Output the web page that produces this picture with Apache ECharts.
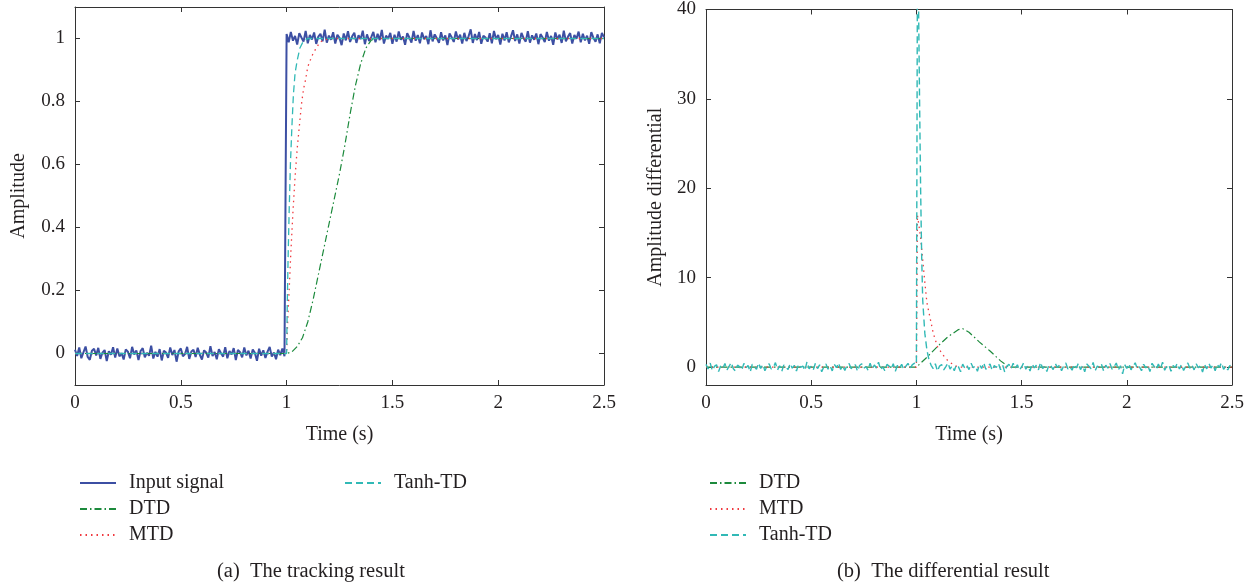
<!DOCTYPE html>
<html><head><meta charset="utf-8">
<script src="https://cdn.jsdelivr.net/npm/echarts@6/dist/echarts.min.js"></script>
<style>html,body{margin:0;padding:0;background:#fff}#c{width:1253px;height:586px}</style>
</head><body><div id="c"></div>
<script>
// ---------- data ----------
const timeStep = 0.01;
const xTicks = [0, 0.5, 1, 1.5, 2, 2.5];
const leftYTicks = [0, 0.2, 0.4, 0.6, 0.8, 1];
const rightYTicks = [0, 10, 20, 30, 40];

// Input signal (noisy step), t = 0.00 .. 0.99
const inputBefore = [0.012,-0.008,0.019,-0.015,0.004,0.022,-0.011,-0.02,0.009,0.015,
-0.006,0.018,-0.017,0.003,0.011,-0.024,0.007,-0.004,0.02,-0.013,
0.016,-0.009,0.001,-0.019,0.013,0.006,-0.015,0.021,-0.003,0.01,
-0.021,0.008,0.017,-0.012,0.002,-0.007,0.025,-0.016,0.005,-0.01,
0.014,-0.022,0.009,0.003,-0.014,0.019,-0.005,0.011,-0.026,0.007,
0.016,-0.009,-0.002,0.021,-0.017,0.006,0.012,-0.011,0.018,-0.004,
-0.019,0.01,0.003,-0.013,0.023,-0.008,0.005,-0.018,0.014,0.001,
-0.01,0.02,-0.015,0.008,-0.003,0.017,-0.021,0.011,0.004,-0.012,
0.019,-0.006,0.009,-0.016,0.013,0.002,-0.023,0.015,-0.007,0.01,
-0.014,0.006,0.021,-0.01,0.003,-0.018,0.012,-0.005,0.016,-0.009];
// Input signal, t = 1.00 .. 2.50
const inputAfter = [1.014,0.988,1.021,0.993,1.008,0.981,1.017,1.003,0.99,1.024,
0.985,1.011,0.997,1.019,0.983,1.006,1.015,0.991,1.028,0.987,
1.009,0.996,1.02,0.984,1.012,1.002,0.979,1.016,0.994,1.023,
0.989,1.007,1.018,0.986,1.01,0.998,1.025,0.982,1.013,0.992,
1.004,1.021,0.988,1.015,0.995,1.027,0.984,1.009,0.999,1.018,
0.983,1.012,0.99,1.022,0.996,1.006,0.98,1.017,1.003,0.987,
1.024,0.993,1.011,0.985,1.019,0.998,1.008,0.982,1.026,0.991,
1.013,1.001,0.986,1.02,0.994,1.01,0.979,1.016,1.004,0.989,
1.022,0.997,1.012,0.984,1.018,0.992,1.007,1.029,0.986,1.014,
0.995,1.021,0.983,1.009,1.003,0.99,1.017,0.985,1.024,0.998,
1.011,0.981,1.015,0.994,1.02,0.988,1.006,1.026,0.992,1.013,
0.984,1.018,1.001,0.99,1.023,0.987,1.01,0.996,1.016,0.982,
1.014,1.003,0.989,1.021,0.993,1.008,0.98,1.019,0.997,1.012,
0.986,1.025,0.991,1.006,1.017,0.984,1.011,0.999,1.022,0.988,
1.015,0.994,1.009,0.983,1.02,1.002,0.99,1.013,0.985,1.018,
1.004];

// Tracking results (a)
const dtdT  = [0, 1.0, 1.025, 1.05, 1.075, 1.1, 1.125, 1.15, 1.175, 1.2, 1.225, 1.25, 1.275, 1.3, 1.325, 1.35, 1.375, 1.4, 1.425, 2.5];
const dtdY  = [0, 0, 0.005, 0.022, 0.05, 0.1, 0.17, 0.25, 0.33, 0.41, 0.49, 0.57, 0.66, 0.76, 0.85, 0.92, 0.97, 0.995, 1.0, 1.0];
const mtdT  = [0, 1.0, 1.005, 1.012, 1.02, 1.03, 1.04, 1.05, 1.06, 1.07, 1.08, 1.09, 1.1, 1.12, 1.14, 1.16, 1.2, 2.5];
const mtdY  = [0, 0, 0.1, 0.2, 0.32, 0.45, 0.56, 0.65, 0.72, 0.79, 0.84, 0.87, 0.91, 0.945, 0.97, 0.99, 1.0, 1.0];
const tanhT = [0, 1.0, 1.003, 1.007, 1.012, 1.018, 1.025, 1.032, 1.04, 1.05, 1.063, 1.078, 1.1, 2.5];
const tanhY = [0, 0, 0.15, 0.3, 0.45, 0.6, 0.72, 0.82, 0.89, 0.93, 0.97, 0.99, 1.0, 1.0];

// Differential results (b)
const dDtdT = [0, 1.0, 1.05, 1.1, 1.15, 1.2, 1.22, 1.25, 1.3, 1.35, 1.4, 1.44, 2.5];
const dDtdY = [0, 0, 1.1, 2.3, 3.4, 4.2, 4.3, 3.9, 2.8, 1.8, 0.7, 0, 0];
const dMtdT = [0, 1.0, 1.005, 1.01, 1.02, 1.03, 1.04, 1.05, 1.065, 1.08, 1.1, 1.125, 1.15, 1.18, 1.2, 2.5];
const dMtdY = [0, 0, 17, 17, 14.5, 12, 9.5, 7.2, 5.5, 3.8, 2.3, 1.4, 0.7, 0.2, 0, 0];
// Tanh-TD differential: noise t = 0.00..0.99, spike, noise t = 1.08..2.50
const dTanhBefore = [0.31,-0.22,0.45,-0.38,0.08,0.27,-0.5,0.17,-0.12,0.4,
-0.3,0.1,0.52,-0.18,-0.45,0.22,0.03,-0.35,0.42,-0.09,
0.19,-0.55,0.32,0.06,-0.25,0.46,-0.14,0.28,-0.4,0.1,
0.37,-0.2,-0.05,0.5,-0.32,0.16,-0.48,0.25,0.02,-0.28,
0.41,-0.12,0.2,-0.44,0.34,-0.03,0.13,-0.38,0.6,-0.19,
0.09,-0.31,0.44,-0.16,0.26,-0.52,0.05,0.35,-0.23,0.15,
-0.42,0.3,-0.07,0.48,-0.26,0.12,-0.37,0.22,0.4,-0.17,
-0.06,0.28,-0.47,0.18,0.38,-0.13,0.07,-0.34,0.44,-0.22,
0.24,-0.1,0.55,-0.3,0.03,-0.41,0.31,0.13,-0.19,0.37,
-0.46,0.2,-0.09,0.32,-0.26,0.1,0.42,-0.15,0.25,0.44];
const dTanhSpikeT = [1.0, 1.005, 1.01, 1.015, 1.02, 1.025, 1.03, 1.04, 1.05, 1.06, 1.07];
const dTanhSpikeY = [0.3, 46, 41, 30, 20, 12.5, 7.5, 3.8, 1.9, 0.8, 0.2];
const dTanhAfterStart = 1.08;
const dTanhAfter = [-0.18,0.38,-0.44,0.12,0.28,-0.32,0.06,0.46,-0.22,0.15,
-0.4,0.25,0.03,-0.52,0.34,-0.12,0.19,-0.28,0.43,-0.07,
0.13,-0.47,0.3,-0.16,0.5,-0.25,0.09,0.35,-0.37,0.18,
-0.04,0.41,-0.3,0.22,-0.56,0.1,0.32,-0.19,0.44,-0.13,
0.26,-0.35,0.02,0.49,-0.24,0.16,-0.43,0.37,-0.09,0.21,
-0.31,0.54,-0.15,0.07,-0.49,0.28,0.12,-0.27,0.4,-0.03,
0.24,-0.41,0.15,0.47,-0.21,0.04,-0.34,0.31,-0.1,0.43,
-0.28,0.18,-0.53,0.35,0.09,-0.18,0.52,-0.38,0.13,-0.06,
0.3,-0.44,0.22,-0.12,0.4,-0.25,0.06,0.46,-0.32,0.16,
-0.75,0.27,-0.15,0.38,-0.3,0.1,0.49,-0.22,0.03,-0.4,
0.32,-0.09,0.21,-0.5,0.43,0.07,-0.27,0.34,-0.16,0.56,
-0.35,0.13,0.25,-0.46,0.18,-0.04,0.41,-0.21,0.3,-0.38,
0.09,0.47,-0.13,0.22,-0.31,0.37,-0.07,0.15,-0.54,0.28,
-0.19,0.44,-0.1,0.24,-0.41,0.31,-0.03,0.5,-0.24,0.12,
-0.32,0.19,0.06];

// ---------- build ----------
const r2 = v => Math.round(v * 1000) / 1000;
const seq = (start, arr) => arr.map((v, i) => [r2(start + i * timeStep), v]);
const pairs = (ts, ys) => ts.map((t, i) => [t, ys[i]]);

const inputData = seq(0, inputBefore).concat(seq(1.0, inputAfter));
const dTanhData = seq(0, dTanhBefore).concat(pairs(dTanhSpikeT, dTanhSpikeY)).concat(seq(dTanhAfterStart, dTanhAfter));

const FONT = 'Liberation Serif';
const TXT = '#231f20';
const AX = '#333';
const C_IN = '#3c4fa3', C_DTD = '#1c8a3c', C_MTD = '#f0393f', C_TANH = '#31b9b6';

function xAx(g, pos, main) {
  return {
    gridIndex: g, type: 'value', min: 0, max: 2.5, interval: 0.5, position: pos,
    name: main ? 'Time (s)' : '', nameLocation: 'middle', nameGap: 40,
    nameTextStyle: { fontFamily: FONT, fontSize: 20, color: TXT },
    axisLine: { show: true, onZero: false, lineStyle: { color: AX, width: 1 } },
    axisTick: { show: true, inside: true, length: 5, lineStyle: { color: AX }, customValues: xTicks },
    axisLabel: { show: main, fontFamily: FONT, fontSize: 19, color: TXT, margin: 9, customValues: xTicks },
    splitLine: { show: false }
  };
}
function yAx(g, pos, main, min, max, ticks, name, gap) {
  return {
    gridIndex: g, type: 'value', min: min, max: max, position: pos,
    name: main ? name : '', nameLocation: 'middle', nameGap: gap,
    nameTextStyle: { fontFamily: FONT, fontSize: 20, color: TXT },
    axisLine: { show: true, onZero: false, lineStyle: { color: AX, width: 1 } },
    axisTick: { show: true, inside: true, length: 5, lineStyle: { color: AX }, customValues: ticks },
    axisLabel: { show: main, fontFamily: FONT, fontSize: 19, color: TXT, margin: 10, customValues: ticks },
    splitLine: { show: false }
  };
}
function line(name, xi, yi, data, color, type, width) {
  return {
    name: name, type: 'line', xAxisIndex: xi, yAxisIndex: yi, data: data,
    showSymbol: false, symbol: 'none', animation: false, clip: true,
    lineStyle: { color: color, width: width || 1.2, type: type },
    itemStyle: { color: color }
  };
}

const legendBase = {
  orient: 'vertical', itemWidth: 36, itemHeight: 14, itemGap: 6, selectedMode: false,
  itemStyle: { opacity: 0 },
  textStyle: { fontFamily: FONT, fontSize: 20, color: TXT, padding: [0, 0, 0, 8] }
};
const option = {
  backgroundColor: '#fff',
  animation: false,
  grid: [
    { left: 75, top: 7, width: 529, height: 378 },
    { left: 706, top: 6, width: 526, height: 379 }
  ],
  xAxis: [xAx(0, 'bottom', true), xAx(0, 'top', false), xAx(1, 'bottom', true), xAx(1, 'top', false)],
  yAxis: [
    yAx(0, 'left', true, -0.1, 1.1, leftYTicks, 'Amplitude', 46),
    yAx(0, 'right', false, -0.1, 1.1, leftYTicks, '', 0),
    yAx(1, 'left', true, -2, 40, rightYTicks, 'Amplitude differential', 40),
    yAx(1, 'right', false, -2, 40, rightYTicks, '', 0)
  ],
  legend: [
    Object.assign({ left: 74, top: 468, data: ['Input signal', 'DTD', 'MTD'] }, legendBase),
    Object.assign({ left: 339, top: 468, data: ['Tanh-TD'] }, legendBase),
    Object.assign({ left: 704, top: 468, data: ['DTD', 'MTD', 'Tanh-TD'] }, legendBase)
  ],
  graphic: [
    { type: 'text', left: 217, top: 561, style: { text: '(a)  The tracking result', font: '20.5px "Liberation Serif"', fill: TXT } },
    { type: 'text', left: 837, top: 561, style: { text: '(b)  The differential result', font: '20.5px "Liberation Serif"', fill: TXT } }
  ],
  series: [
    line('Input signal', 0, 0, inputData, C_IN, 'solid', 2),
    line('DTD', 0, 0, pairs(dtdT, dtdY), C_DTD, [7, 3, 1.5, 3], 1.2),
    line('MTD', 0, 0, pairs(mtdT, mtdY), C_MTD, [1.5, 4], 1.3),
    line('Tanh-TD', 0, 0, pairs(tanhT, tanhY), C_TANH, [7, 4], 1.3),
    line('DTD', 2, 2, pairs(dDtdT, dDtdY), C_DTD, [7, 3, 1.5, 3], 1.2),
    line('MTD', 2, 2, pairs(dMtdT, dMtdY), C_MTD, [1.5, 4], 1.3),
    line('Tanh-TD', 2, 2, dTanhData, C_TANH, [7, 4], 1.4)
  ]
};
const chart = echarts.init(document.getElementById('c'), null, { renderer: 'canvas' });
chart.setOption(option);
</script></body></html>
